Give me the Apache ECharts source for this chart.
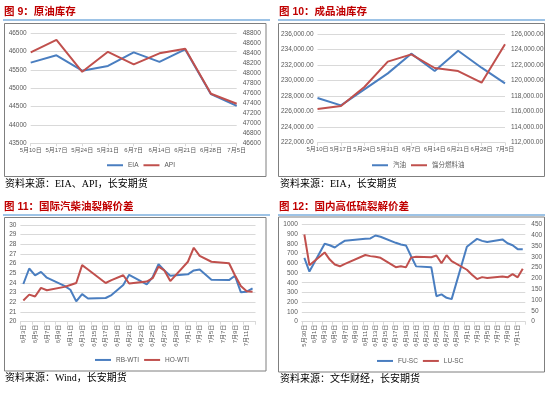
<!DOCTYPE html>
<html><head><meta charset="utf-8">
<script src="https://cdn.jsdelivr.net/npm/echarts@6/dist/echarts.min.js"></script>
<style>html,body{margin:0;padding:0;background:#fff}#c{width:550px;height:394px}</style>
</head><body><div id="c"></div>
<script>
// ---- Chart 9: crude inventories ----
const cats9 = ['5月10日','5月17日','5月24日','5月31日','6月7日','6月14日','6月21日','6月28日','7月5日'];
const eia = [45700, 45900, 45480, 45610, 45980, 45720, 46060, 44840, 44520];
const api = [48420, 48670, 48030, 48430, 48180, 48400, 48490, 47590, 47390];

// ---- Chart 10: product inventories ----
const cats10 = ['5月10日','5月17日','5月24日','5月31日','6月7日','6月14日','6月21日','6月28日','7月5日'];
const gasoline = [227760, 226810, 228870, 230930, 233470, 231230, 233850, 231660, 229650];
const distillate = [116340, 116730, 119170, 122440, 123380, 121620, 121230, 119730, 124670];

// ---- Chart 11: international cracks ----
const cats11 = ['6月3日','6月4日','6月5日','6月6日','6月7日','6月8日','6月9日','6月10日','6月11日','6月12日','6月13日','6月14日','6月15日','6月16日','6月17日','6月18日','6月19日','6月20日','6月21日','6月22日','6月23日','6月24日','6月25日','6月26日','6月27日','6月28日','6月29日','6月30日','7月1日','7月2日','7月3日','7月4日','7月5日','7月6日','7月7日','7月8日','7月9日','7月10日','7月11日','7月12日'];
const rbWti = [23.9,25.5,24.8,25.15,24.55,null,null,23.7,23.3,22.1,22.85,22.4,null,null,22.45,22.75,null,23.8,24.85,null,null,23.85,24.6,25.95,25.3,24.75,null,null,24.9,25.3,25.4,null,24.35,null,null,24.3,24.75,23.05,23.1,23.45];
const hoWti = [22.2,22.8,22.6,23.5,23.25,null,null,23.6,23.8,24.0,25.85,25.4,null,null,24.0,24.3,null,24.8,23.95,null,null,24.15,24.5,25.7,25.3,24.2,null,null,26.2,27.65,26.8,null,26.2,null,null,26.05,24.8,23.7,23.15,23.1];

// ---- Chart 12: domestic high/low sulphur cracks ----
const cats12 = ['5月30日','5月31日','6月1日','6月2日','6月3日','6月4日','6月5日','6月6日','6月7日','6月8日','6月9日','6月10日','6月11日','6月12日','6月13日','6月14日','6月15日','6月16日','6月17日','6月18日','6月19日','6月20日','6月21日','6月22日','6月23日','6月24日','6月25日','6月26日','6月27日','6月28日','6月29日','6月30日','7月1日','7月2日','7月3日','7月4日','7月5日','7月6日','7月7日','7月8日','7月9日','7月10日','7月11日','7月12日'];
const fuSc = [655,515,null,null,800,785,762,800,832,null,null,null,852,855,885,872,null,null,810,792,783,675,568,null,null,558,262,280,245,232,null,null,770,810,850,830,818,null,null,845,805,785,745,745];
const luSc = [403,261,null,null,320,287,264,256,267,null,null,null,308,303,300,295,null,null,252,256,251,296,300,null,null,298,306,270,307,280,null,null,240,217,197,206,202,null,null,209,205,220,205,245];

const BLUE = '#4A7EC0', RED = '#C0504D';
const GRID = '#D9D9D9', LAB = '#595959';
const FONT = '"Liberation Sans","Noto Sans CJK SC",sans-serif';
const TITLE_FONT = 'bold 10.5px "Liberation Sans","Noto Sans CJK SC",sans-serif';
const SRC_FONT = '10px "Liberation Serif","Noto Sans CJK SC",serif';
const plain = v => String(v);
const fmt2 = v => v.toLocaleString('en-US', {minimumFractionDigits: 2, maximumFractionDigits: 2});

function xCat(grid, data, opts) {
  return Object.assign({
    gridIndex: grid, type: 'category', data: data,
    axisLine: {show: true, lineStyle: {color: GRID, width: 1}},
    axisTick: {show: true, length: 3, lineStyle: {color: GRID}},
    axisLabel: {fontSize: 6, color: LAB, fontFamily: FONT, margin: 4}
  }, opts);
}
function yVal(grid, min, max, interval, right, formatter) {
  return {
    gridIndex: grid, type: 'value', min: min, max: max, interval: interval,
    position: right ? 'right' : 'left',
    axisLine: {show: false}, axisTick: {show: false},
    splitLine: {show: !right, lineStyle: {color: GRID, width: 1}},
    axisLabel: {fontSize: 6.5, color: LAB, fontFamily: FONT, margin: right ? 6 : 4, formatter: formatter || plain}
  };
}
function line(name, x, y, data, color) {
  return {name: name, type: 'line', xAxisIndex: x, yAxisIndex: y, data: data,
    symbol: 'none', showSymbol: false, connectNulls: true, smooth: false,
    lineStyle: {color: color, width: 2}, itemStyle: {color: color}};
}
function legend(names, left, top) {
  return {data: names, left: left, top: top, padding: 0, icon: 'rect',
    itemWidth: 16, itemHeight: 2, itemGap: 5, orient: 'horizontal',
    textStyle: {fontSize: 6.5, color: LAB, fontFamily: FONT}};
}

function panel(x0, y0, title, source, box) {
  return [
    {type: 'text', x: x0 + 4, y: y0 + 12, style: {text: title, font: TITLE_FONT, fill: '#C00000', verticalAlign: 'middle', align: 'left'}},
    {type: 'line', shape: {x1: x0 + 3, y1: y0 + 20, x2: x0 + 270, y2: y0 + 20}, style: {stroke: '#9DC3E6', lineWidth: 2}},
    {type: 'rect', shape: box, style: {fill: 'none', stroke: '#7F7F7F', lineWidth: 1}},
    {type: 'text', x: x0 + 5, y: box.y + box.height + 7.5, style: {text: source, font: SRC_FONT, fill: '#000', verticalAlign: 'middle', align: 'left'}}
  ];
}

const chart = echarts.init(document.getElementById('c'), null, {renderer: 'canvas'});
chart.setOption({
  animation: false,
  backgroundColor: '#fff',
  grid: [
    {left: 30.7, top: 33.3, width: 206, height: 110, containLabel: false},
    {left: 317.5, top: 34, width: 187.5, height: 108.7, containLabel: false},
    {left: 20.4, top: 225, width: 235.1, height: 96.7, containLabel: false},
    {left: 301.8, top: 224.3, width: 223.5, height: 97.4, containLabel: false}
  ],
  xAxis: [
    xCat(0, cats9, {boundaryGap: false, axisLabel: {fontSize: 6, color: LAB, fontFamily: FONT, margin: 4, interval: 0}}),
    xCat(1, cats10, {boundaryGap: false, axisLabel: {fontSize: 6, color: LAB, fontFamily: FONT, margin: 4, interval: 0}}),
    xCat(2, cats11, {boundaryGap: true, axisTick: {show: true, length: 3, interval: 1, lineStyle: {color: GRID}},
      axisLabel: {fontSize: 6, color: LAB, fontFamily: FONT, margin: 3, interval: 1, rotate: 90}}),
    xCat(3, cats12, {boundaryGap: true, axisTick: {show: true, length: 3, interval: 1, lineStyle: {color: GRID}},
      axisLabel: {fontSize: 6, color: LAB, fontFamily: FONT, margin: 3, interval: 1, rotate: 90}})
  ],
  yAxis: [
    yVal(0, 43500, 46500, 500, false),
    yVal(0, 46600, 48800, 200, true),
    yVal(1, 222000, 236000, 2000, false, fmt2),
    yVal(1, 112000, 126000, 2000, true, fmt2),
    yVal(2, 20, 30, 1, false),
    yVal(3, 0, 1000, 100, false),
    yVal(3, 0, 450, 50, true)
  ],
  legend: [
    legend(['EIA', 'API'], 107, 162),
    legend(['汽油', '馏分燃料油'], 372, 162),
    legend(['RB-WTI', 'HO-WTI'], 95, 356.7),
    legend(['FU-SC', 'LU-SC'], 377, 357.7)
  ],
  series: [
    line('EIA', 0, 0, eia, BLUE),
    line('API', 0, 1, api, RED),
    line('汽油', 1, 2, gasoline, BLUE),
    line('馏分燃料油', 1, 3, distillate, RED),
    line('RB-WTI', 2, 4, rbWti, BLUE),
    line('HO-WTI', 2, 4, hoWti, RED),
    line('FU-SC', 3, 5, fuSc, BLUE),
    line('LU-SC', 3, 6, luSc, RED)
  ],
  graphic: {elements: [].concat(
    panel(0, 0, '图 9：原油库存', '资料来源：EIA、API，长安期货', {x: 4.5, y: 23.5, width: 261.5, height: 153}),
    panel(275, 0, '图 10：成品油库存', '资料来源：EIA，长安期货', {x: 278.5, y: 23.5, width: 266, height: 153}),
    panel(0, 195, '图 11：国际汽柴油裂解价差', '资料来源：Wind，长安期货', {x: 4.5, y: 217.5, width: 261.5, height: 153.5}),
    panel(275, 195, '图 12：国内高低硫裂解价差', '资料来源：文华财经，长安期货', {x: 278.5, y: 217, width: 266, height: 155})
  )}
});
</script>
</body></html>
